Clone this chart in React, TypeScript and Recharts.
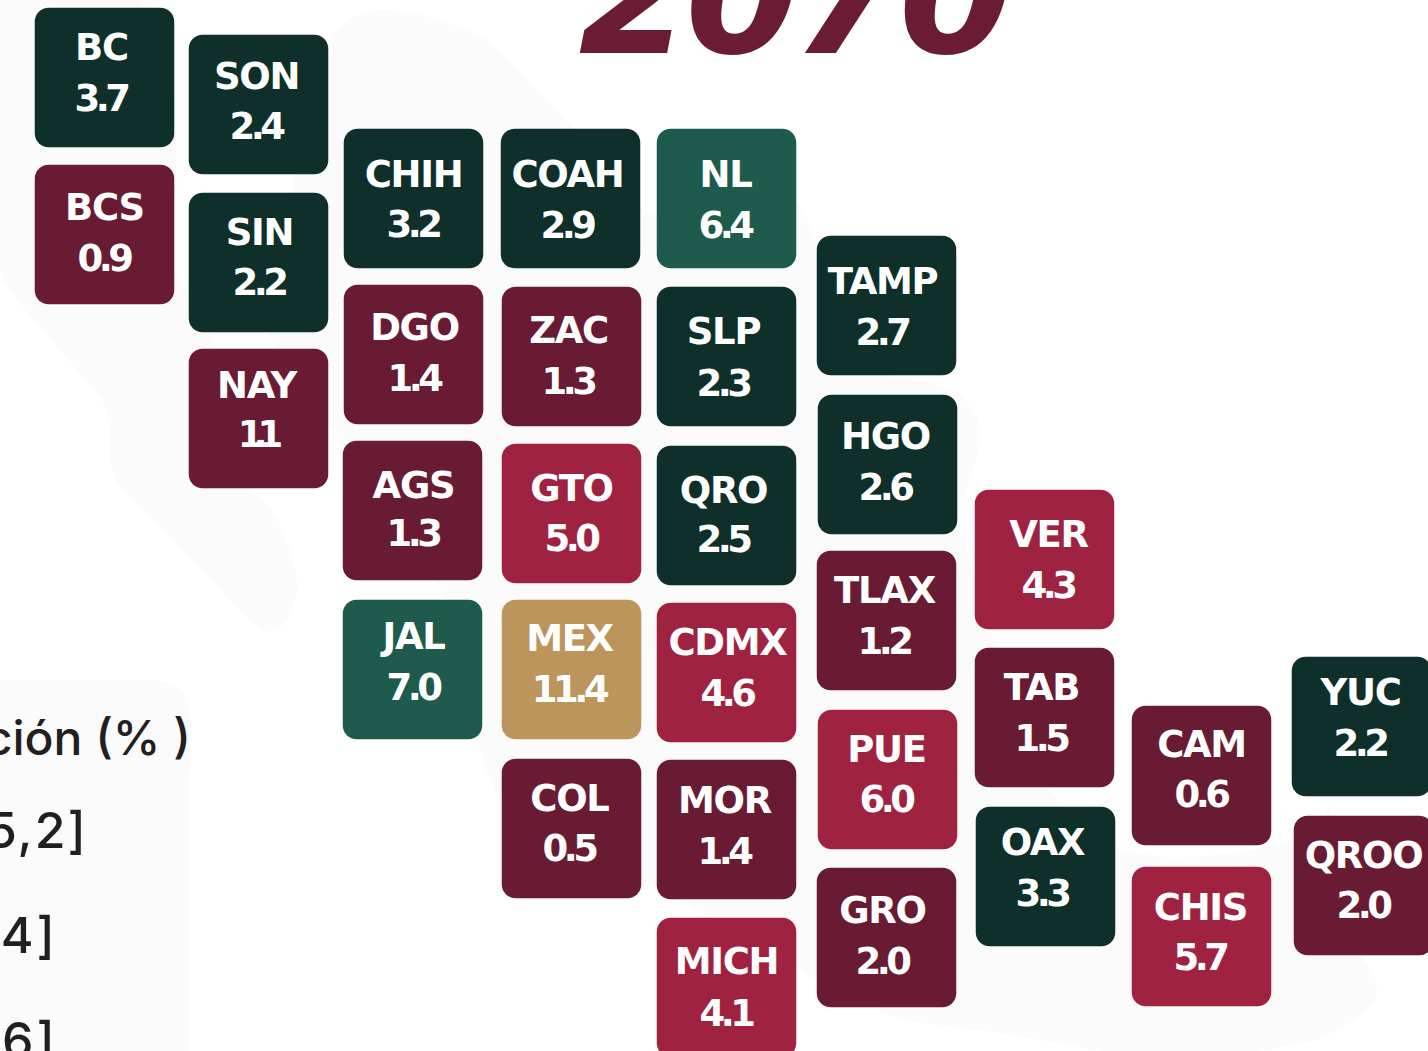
import { ScatterChart, Scatter, XAxis, YAxis } from 'recharts';

// one grid unit = 100px on the 1428x1051 canvas
const stateCodes = ['BC','SON','BCS','SIN','NAY','CHIH','COAH','NL','DGO','ZAC','SLP','AGS','GTO','QRO','JAL','MEX','CDMX','COL','MOR','MICH','TAMP','HGO','TLAX','PUE','GRO','VER','TAB','OAX','CAM','CHIS','YUC','QROO'];
const shares = [3.7,2.4,0.9,2.2,1.1,3.2,2.9,6.4,1.4,1.3,2.3,1.3,5.0,2.5,7.0,11.4,4.6,0.5,1.4,4.1,2.7,2.6,1.2,6.0,2.0,4.3,1.5,3.3,0.6,5.7,2.2,2.0];
const gridCols = [1.045,2.585,1.045,2.585,2.585,4.135,5.705,7.265,4.135,5.715,7.265,4.125,5.715,7.265,4.125,5.715,7.265,5.715,7.265,7.265,8.865,8.875,8.865,8.875,8.865,10.445,10.445,10.455,12.015,12.015,13.615,13.635];
const gridRows = [0.775,1.045,2.345,2.625,4.185,1.985,1.985,1.985,3.545,3.565,3.565,5.105,5.135,5.155,6.695,6.695,6.725,8.285,8.295,9.875,3.055,4.645,6.205,7.795,9.375,5.595,7.175,8.765,7.755,9.365,7.265,8.855];

const binLimits = [2, 4, 6, 10];
const binColors = ['#681B32', '#0F2F2A', '#9F2241', '#1F5B4D', '#BC955C'];

const titleText = '2070';
const legendTitle = 'Participación (% )';
const legendRows = ['[0,5,2]', '(2,4]', '(4,6]'];

const tiles = stateCodes.map((code, i) => ({
  code,
  share: shares[i],
  col: gridCols[i],
  row: gridRows[i],
}));

const colorFor = (v: number) => {
  const idx = binLimits.findIndex((limit) => v <= limit);
  return binColors[idx === -1 ? binColors.length - 1 : idx];
};

const TILE = 139.5;

// hand nudges for labels inside the tile: [dx, name dy, value dy]
const labelNudge: Record<string, [number, number, number]> = {
  BC: [-3, 0, 0], SON: [-2, 2, 1], BCS: [0, 3, 3], SIN: [1, 0, -1], NAY: [-2, -3, -5],
  CHIH: [0, 6, 5], COAH: [-3, 6, 6], NL: [-1, 6, 6], DGO: [1, 3, 3], ZAC: [-3, 4, 4],
  SLP: [-3, 5, 6], AGS: [1, 5, 2], GTO: [0, 5, 4], QRO: [-3, 5, 3], JAL: [1, -3, -3],
  MEX: [-2, -1, -1], CDMX: [1, 0, 0], COL: [-2, 0, -1], MOR: [-2, 1, 1], MICH: [0, 4, 5],
  TAMP: [-4, 6, 6], HGO: [-2, 2, 2], TLAX: [-2, 0, 0], PUE: [-1, 0, -1], GRO: [-4, 3, 3],
  VER: [4, 5, 5], TAB: [-3, 0, 0], OAX: [-3, -4, -4], CAM: [0, -1, -2], CHIS: [-1, 1, 0],
  YUC: [-1, -4, -4], QROO: [0, 0, -1],
};

function Tile(props: any) {
  const { cx, cy, payload } = props;
  const left = Math.round(cx - 69.5) - 0.25;
  const top = Math.round(cy - 69.5) - 0.25;
  const mid = left + TILE / 2;
  const [dx, nameDy, valueDy] = labelNudge[payload.code];
  return (
    <g>
      <rect x={left} y={top} width={TILE} height={TILE} rx={14} ry={14} fill={colorFor(payload.share)} />
      <text x={mid + dx} y={top + 52 + nameDy} textAnchor="middle" fill="#fff" fontFamily="DejaVu Sans" fontWeight={700} fontSize={37} letterSpacing={-1.3}>
        {payload.code}
      </text>
      <text x={mid + dx - 1} y={top + 103 + valueDy} textAnchor="middle" fill="#fff" fontFamily="DejaVu Sans" fontWeight={700} fontSize={37} letterSpacing={payload.share === 1.1 ? -10 : -4.5}>
        {payload.share.toFixed(1)}
      </text>
    </g>
  );
}

// pale map silhouette behind the tiles
const bajaOutline = 'M137,0 L172,22 L176,160 L172,265 L213,340 L250,490 C265,500 272,510 277,517 C288,545 297,565 297,585 C297,610 285,630 268,632 C258,632 250,620 117,483 C108,470 110,440 110,427 C108,410 100,397 100,397 L17,300 C5,285 0,275 0,270 L0,0 Z';
const mainlandOutline = 'M333,33 C345,20 360,10 385,10 C420,12 470,25 500,50 L568,123 L650,215 L799,203 L817,240 L890,377 C925,382 945,385 957,393 C972,405 980,420 980,433 C980,450 975,465 957,520 L1000,660 L1047,787 L1063,807 L1117,847 C1140,855 1160,857 1177,857 C1210,857 1240,852 1267,847 L1325,827 L1328,800 L1363,960 C1372,970 1377,980 1377,990 C1377,1000 1372,1008 1367,1010 C1350,1025 1335,1030 1317,1040 L1260,1051 L1100,1051 L1000,1033 L900,1020 L817,980 L713,920 L657,887 L503,807 L483,763 L478,740 L447,598 L337,437 L267,333 L295,180 L320,60 Z';
const panelOutline = 'M-20,680 L151,680 Q191,680 191,720 L191,1071 L-20,1071 Z';

export default function App() {
  return (
    <div style={{ position: 'absolute', left: 0, top: 0, width: 1428, height: 1051, overflow: 'hidden', background: '#fff' }}>
      <ScatterChart width={1428} height={1051} margin={{ top: 0, right: 0, bottom: 0, left: 0 }}>
        <XAxis type="number" dataKey="col" domain={[0, 14.28]} hide />
        <YAxis type="number" dataKey="row" domain={[0, 10.51]} reversed hide />
        <path d={bajaOutline} fill="#FBFBFB" />
        <path d={mainlandOutline} fill="#FBFBFB" />
        <path d={panelOutline} fill="#FBFBFB" />
        <text x={792} y={53} textAnchor="middle" fill="#691C32" fontFamily="DejaVu Sans" fontWeight={700} fontStyle="italic" fontSize={165} letterSpacing={-8}>
          {titleText}
        </text>
        <text x={191} y={755} textAnchor="end" fill="#231F20" fontFamily="Inter" fontWeight={500} fontSize={48}>
          {legendTitle}
        </text>
        <text x={88} y={848} textAnchor="end" fill="#231F20" fontFamily="Inter" fontWeight={500} fontSize={50} letterSpacing={2}>
          {legendRows[0]}
        </text>
        <text x={58} y={953} textAnchor="end" fill="#231F20" fontFamily="Inter" fontWeight={500} fontSize={50} letterSpacing={3}>
          {legendRows[1]}
        </text>
        <text x={58} y={1058} textAnchor="end" fill="#231F20" fontFamily="Inter" fontWeight={500} fontSize={50} letterSpacing={3}>
          {legendRows[2]}
        </text>
        <Scatter data={tiles} isAnimationActive={false} shape={(p: any) => <Tile {...p} />} />
      </ScatterChart>
    </div>
  );
}
